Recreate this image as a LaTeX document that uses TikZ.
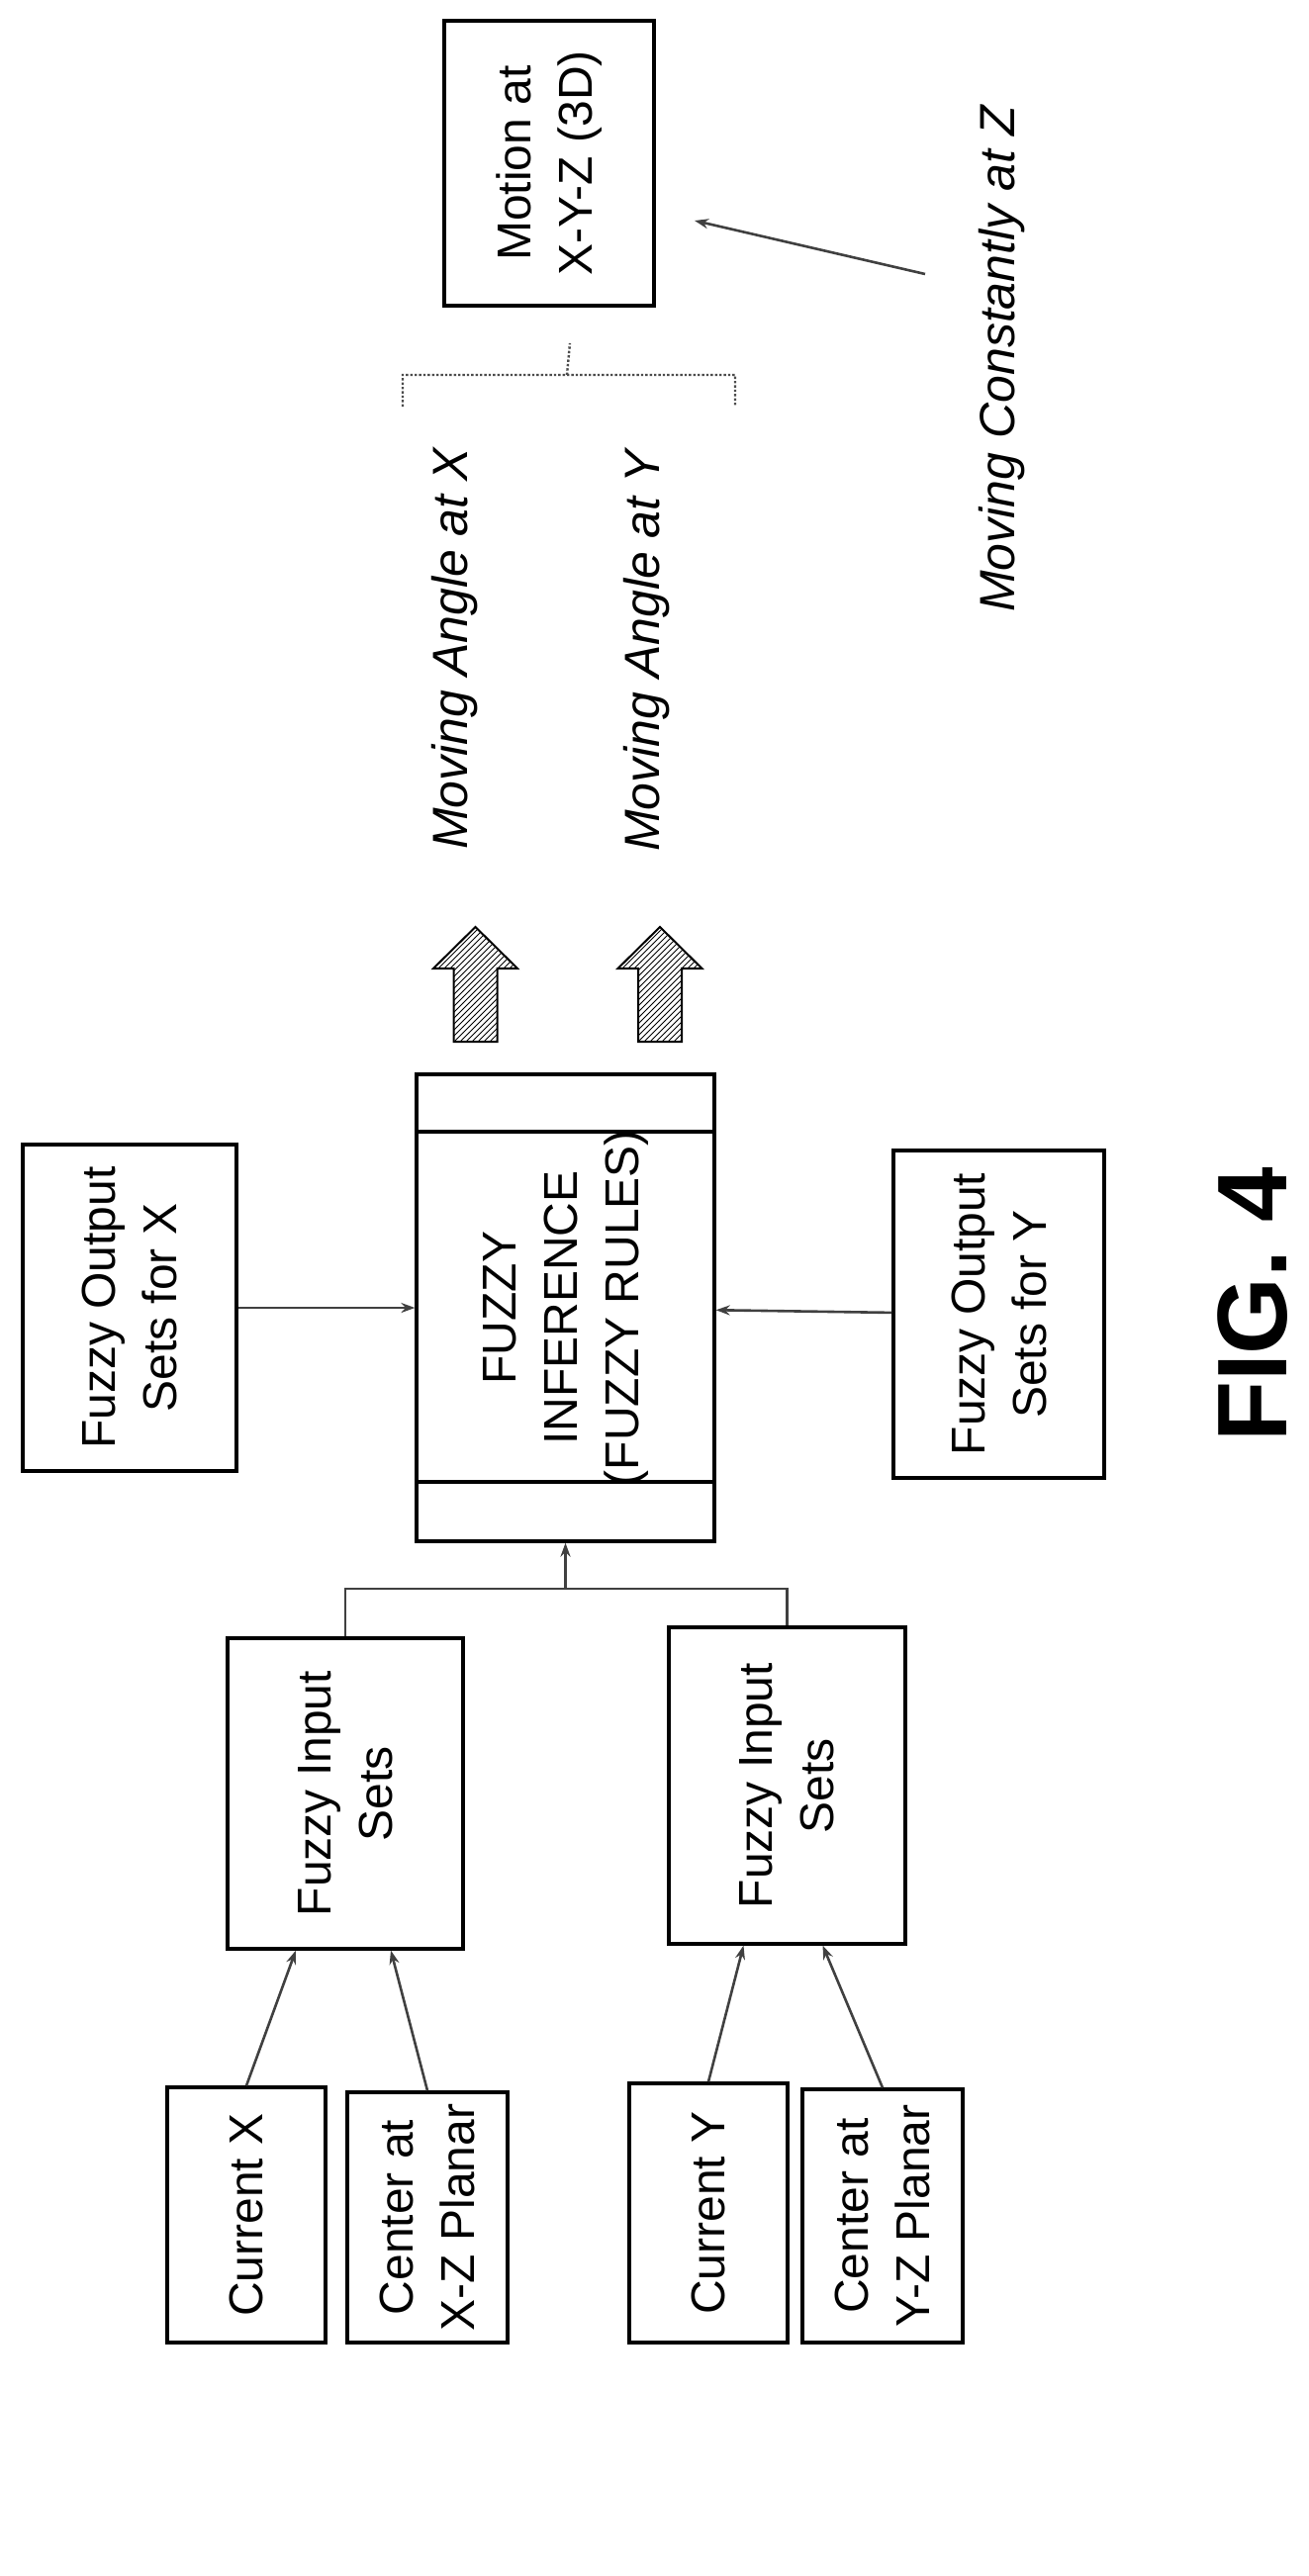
\documentclass[tikz,border=0pt]{standalone}
\usepackage{fontspec}
\setmainfont{Liberation Sans}
\usetikzlibrary{patterns,arrows.meta}
\begin{document}
\begin{tikzpicture}[x=0.5pt,y=0.5pt,
  box/.style={draw,line width=1.6pt,rotate=90,align=center,inner sep=0pt,
    font=\fontsize{24}{31}\selectfont},
  lab/.style={rotate=90,font=\fontsize{25}{30}\selectfont\itshape},
  conn/.style={draw=black!75,line width=1.3pt},
  arr/.style={conn,-{Stealth[length=7pt,width=5pt]}},
  blk/.style={draw,line width=1pt,pattern=north east lines}]
\useasboundingbox (0,0) rectangle (1323,-2604);
\node[box,minimum width=144pt,minimum height=106pt] (motion) at (555,-165) {Motion at\\X-Y-Z (3D)};
\node[box,minimum width=165pt,minimum height=108pt] (outX) at (131,-1322) {Fuzzy Output\\Sets for X};
\node[box,minimum width=165.5pt,minimum height=106.5pt] (outY) at (1009.5,-1328.5) {Fuzzy Output\\Sets for Y};
\node[box,minimum width=236pt,minimum height=150.5pt] (inf) at (571.5,-1322) {FUZZY\\INFERENCE\\(FUZZY RULES)};
\draw[line width=1.6pt] (421,-1144) -- (722,-1144) (421,-1498) -- (722,-1498);
\node[box,minimum width=157pt,minimum height=119pt] (inX) at (349,-1813) {Fuzzy Input\\Sets};
\node[box,minimum width=160pt,minimum height=119.5pt] (inY) at (795.5,-1805) {Fuzzy Input\\Sets};
\node[box,minimum width=129pt,minimum height=80pt] (curX) at (249,-2239) {Current X};
\node[box,minimum width=126.5pt,minimum height=81pt] (cenX) at (432,-2241.5) {Center at\\X-Z Planar};
\node[box,minimum width=131pt,minimum height=80pt] (curY) at (716,-2237) {Current Y};
\node[box,minimum width=128pt,minimum height=81pt] (cenY) at (892,-2240) {Center at\\Y-Z Planar};
\node[lab] (angX) at (460,-656) {Moving Angle at X};
\node[lab] (angY) at (654,-658) {Moving Angle at Y};
\node[lab] (mcz) at (1013,-363) {Moving Constantly at Z};
\node[rotate=90,font=\fontsize{50}{56}\selectfont\bfseries] (fig) at (1266,-1319) {FIG. 4};
% block arrows
\coordinate (bx) at (480.5,-1053);
\coordinate (by) at (667,-1053);
\foreach \c in {bx,by}
  \draw[blk] (\c) ++(-22,0) -- ++(0,74) -- ++(-20.5,0) -- ++(42.5,42) -- ++(42.5,-42) -- ++(-20.5,0) -- ++(0,-74) -- cycle;
% connectors
\draw[arr] (outX) -- (inf);
\draw[arr] (outY) -- (inf);
\coordinate (j) at (571.5,-1606);
\draw[conn] (inX.east) |- (j) -| (inY.east);
\draw[arr] (j) -- (inf.west);
\draw[arr] (curX.east) -- ([xshift=-25pt]inX.west);
\draw[arr] (cenX.east) -- ([xshift=23pt]inX.west);
\draw[arr] (curY.east) -- ([xshift=-22pt]inY.west);
\draw[arr] (cenY.east) -- ([xshift=18pt]inY.west);
\coordinate (ms) at (935,-277);
\coordinate (me) at (702,-223);
\draw[arr] (ms) -- (me);
\coordinate (b1) at (407,-411);
\coordinate (b2) at (743,-411);
\coordinate (bt) at (576,-347);
\draw[draw=black!70,line width=1.2pt,densely dotted] (b1) -- (407,-379) -- (743,-379) -- (b2) (573,-379) -- (bt);
\end{tikzpicture}
\end{document}
